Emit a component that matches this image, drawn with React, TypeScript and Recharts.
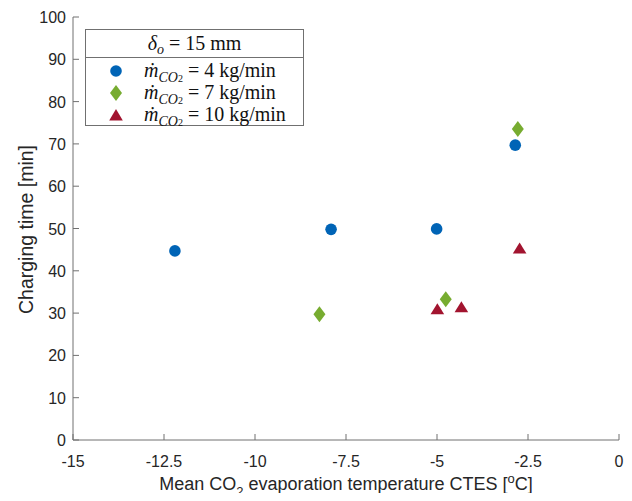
import { ScatterChart, Scatter, XAxis, YAxis, Legend } from "recharts";

// mean CO2 evaporation temperature [°C] vs charging time [min]
const xTicks = [-15, -12.5, -10, -7.5, -5, -2.5, 0];
const yTicks = [0, 10, 20, 30, 40, 50, 60, 70, 80, 90, 100];

const flow4 = [
  { x: -12.2, y: 44.7 },
  { x: -7.91, y: 49.8 },
  { x: -5.01, y: 49.9 },
  { x: -2.85, y: 69.7 },
];
const flow7 = [
  { x: -8.23, y: 29.7 },
  { x: -4.76, y: 33.3 },
  { x: -2.78, y: 73.5 },
];
const flow10 = [
  { x: -4.99, y: 30.9 },
  { x: -4.33, y: 31.4 },
  { x: -2.73, y: 45.3 },
];

const BLUE = "#0064B6";
const GREEN = "#77AC30";
const RED = "#A2142F";
const AXIS = "#707070";
const TXT = "#262626";
const SANS = "'Liberation Sans', Arial, sans-serif";
const SERIF = "'Liberation Serif', 'Times New Roman', serif";

const Circle = (p: any) => <circle cx={p.cx} cy={p.cy} r={5.8} fill={BLUE} />;
const Diamond = (p: any) => (
  <path d={`M${p.cx},${p.cy - 8}L${p.cx + 6},${p.cy}L${p.cx},${p.cy + 8}L${p.cx - 6},${p.cy}Z`} fill={GREEN} />
);
const Triangle = (p: any) => (
  <path d={`M${p.cx},${p.cy - 6}L${p.cx + 6.8},${p.cy + 5}L${p.cx - 6.8},${p.cy + 5}Z`} fill={RED} />
);

function BottomTick({ x, y, payload }: any) {
  return (
    <g>
      <line x1={x} x2={x} y1={y} y2={y - 6} stroke={AXIS} />
      <text x={x} y={y + 27} textAnchor="middle" fontSize={16} fill={TXT} fontFamily={SANS}>
        {payload.value}
      </text>
    </g>
  );
}
function TopTick({ x, y }: any) {
  return <line x1={x} x2={x} y1={y} y2={y + 6} stroke={AXIS} />;
}
function LeftTick({ x, y, payload }: any) {
  return (
    <g>
      <line x1={x} x2={x + 6} y1={y} y2={y} stroke={AXIS} />
      <text x={x - 7} y={y + 6} textAnchor="end" fontSize={16} fill={TXT} fontFamily={SANS}>
        {payload.value}
      </text>
    </g>
  );
}
function RightTick({ x, y }: any) {
  return <line x1={x} x2={x - 6} y1={y} y2={y} stroke={AXIS} />;
}

function XLabel({ viewBox }: any) {
  const cx = viewBox.x + viewBox.width / 2;
  return (
    <text x={cx} y={viewBox.y + 50} textAnchor="middle" fontSize={18} fill={TXT} fontFamily={SANS}>
      Mean CO
      <tspan fontSize={13} dy={6}>2</tspan>
      <tspan dy={-6}> evaporation temperature CTES [</tspan>
      <tspan fontSize={13} dy={-7}>o</tspan>
      <tspan dy={7}>C]</tspan>
    </text>
  );
}
function YLabel({ viewBox }: any) {
  const cy = viewBox.y + viewBox.height / 2 + 1;
  return (
    <text x={25} y={cy} transform={`rotate(-90 25 ${cy})`} textAnchor="middle" fontSize={19.5} fill={TXT} fontFamily={SANS}>
      Charging time [min]
    </text>
  );
}

const Mdot = ({ val }: { val: string }) => (
  <span style={{ whiteSpace: "nowrap" }}>
    <i>ṁ</i>
    <sub style={{ fontSize: 14, verticalAlign: -5 }}>
      <i>CO</i>
      <span style={{ fontSize: 10 }}>2</span>
    </sub>
    {` = ${val} kg/min`}
  </span>
);

function LegendBox() {
  const rows = [
    { mark: <circle cx={8} cy={8} r={5.8} fill={BLUE} />, val: "4" },
    { mark: <path d="M8,0L14,8L8,16L2,8Z" fill={GREEN} />, val: "7" },
    { mark: <path d="M8,2L14.8,13.5L1.2,13.5Z" fill={RED} />, val: "10" },
  ];
  return (
    <div
      style={{
        position: "relative",
        width: 219,
        height: 97,
        boxSizing: "border-box",
        border: `1px solid ${AXIS}`,
        background: "#fff",
        fontFamily: SERIF,
        fontSize: 20,
        color: "#111",
        lineHeight: "22px",
      }}
    >
      <div
        style={{
          position: "absolute",
          left: 0,
          top: 0,
          width: 217,
          height: 27,
          borderBottom: `1px solid ${AXIS}`,
          textAlign: "center",
          lineHeight: "26px",
        }}
      >
        <i>δ</i>
        <sub style={{ fontSize: 14, verticalAlign: -4 }}>
          <i>o</i>
        </sub>
        {" = 15 mm"}
      </div>
      {rows.map((r, i) => (
        <div key={i} style={{ position: "absolute", left: 0, top: 30 + 22 * i, height: 22, width: 217 }}>
          <svg width={16} height={16} style={{ position: "absolute", left: 22, top: 3 }}>
            {r.mark}
          </svg>
          <div style={{ position: "absolute", left: 58, top: -1 }}>
            <Mdot val={r.val} />
          </div>
        </div>
      ))}
    </div>
  );
}

export default function App() {
  return (
    <div style={{ height: 485 }}>
      <ScatterChart width={624} height={493} margin={{ top: 9, right: 13, left: 0, bottom: 8 }}>
        <XAxis
          type="number"
          dataKey="x"
          domain={[-15, 0]}
          ticks={xTicks}
          interval={0}
          height={53}
          tickSize={0}
          tickMargin={0}
          stroke={AXIS}
          tick={<BottomTick />}
          label={<XLabel />}
        />
        <XAxis
          xAxisId="top"
          orientation="top"
          type="number"
          domain={[-15, 0]}
          allowDataOverflow
          ticks={xTicks}
          interval={0}
          height={0}
          tickSize={0}
          tickMargin={0}
          stroke={AXIS}
          tick={<TopTick />}
        />
        <YAxis
          type="number"
          dataKey="y"
          domain={[0, 100]}
          ticks={yTicks}
          interval={0}
          width={65}
          tickSize={0}
          tickMargin={0}
          stroke={AXIS}
          tick={<LeftTick />}
          label={<YLabel />}
        />
        <YAxis
          yAxisId="right"
          orientation="right"
          type="number"
          domain={[0, 100]}
          allowDataOverflow
          ticks={yTicks}
          interval={0}
          width={0}
          tickSize={0}
          tickMargin={0}
          stroke={AXIS}
          tick={<RightTick />}
        />
        <Legend
          layout="horizontal"
          verticalAlign="middle"
          align="center"
          content={() => <LegendBox />}
          wrapperStyle={{ left: 77, top: 21, width: 219, height: 97 }}
        />
        <Scatter name="4 kg/min" data={flow4} shape={Circle} isAnimationActive={false} />
        <Scatter name="7 kg/min" data={flow7} shape={Diamond} isAnimationActive={false} />
        <Scatter name="10 kg/min" data={flow10} shape={Triangle} isAnimationActive={false} />
      </ScatterChart>
    </div>
  );
}
